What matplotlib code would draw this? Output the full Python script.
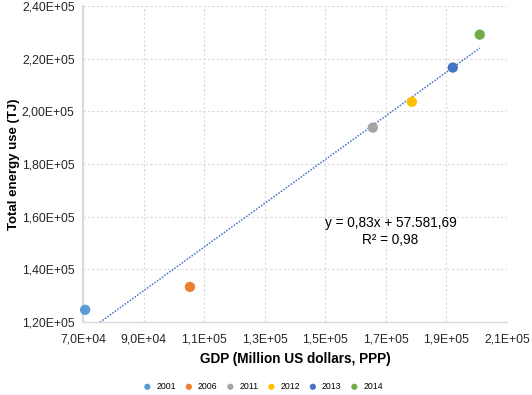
import numpy as np
import matplotlib
matplotlib.use("Agg")
import matplotlib.pyplot as plt
from matplotlib.ticker import FuncFormatter

plt.rcParams['font.family'] = ['Liberation Sans', 'DejaVu Sans']

# datos
years = ['2001', '2006', '2011', '2012', '2013', '2014']
gdp = [70700, 105300, 165700, 178600, 192100, 201000]
energy = [124600, 133300, 193800, 203600, 216600, 229100]
colores = ['#5B9BD5', '#ED7D31', '#A5A5A5', '#FFC000', '#4472C4', '#70AD47']

fig = plt.figure(figsize=(5.32, 3.95), dpi=100)
ax = fig.add_axes([0.156, 0.185, 0.797, 0.80])

for yr, x, y, c in zip(years, gdp, energy, colores):
    ax.scatter(x, y, s=55, color=c, label=yr, zorder=3, edgecolors='none', clip_on=False)

# linea de tendencia
m, b = np.polyfit(gdp, energy, 1)
xs = np.linspace(min(gdp), max(gdp), 100)
ax.plot(xs, m * xs + b, ls=(0, (1, 1)), color='#4472C4', lw=1.1, zorder=2)

ax.text(171500, 157500, "y = 0,83x + 57.581,69", ha='center', va='center', fontsize=9.8)
ax.text(171500, 151200, "R² = 0,98", ha='center', va='center', fontsize=9.8)

ax.set_xlim(70000, 210000)
ax.set_ylim(120000, 240000)
ax.set_xticks(np.arange(70000, 210001, 20000))
ax.set_yticks(np.arange(120000, 240001, 20000))
ax.xaxis.set_major_formatter(FuncFormatter(lambda v, p: f"{v:.1E}".replace('.', ',')))
ax.yaxis.set_major_formatter(FuncFormatter(lambda v, p: f"{v:.2E}".replace('.', ',')))
ax.tick_params(length=0, labelsize=8.8, labelcolor='#262626')
ax.tick_params(axis='y', pad=6)
ax.tick_params(axis='x', pad=8)

ax.grid(True, ls=(0, (2, 2)), color='#D9D9D9', lw=0.8)
ax.set_axisbelow(True)
for s in ['top', 'right']:
    ax.spines[s].set_visible(False)
ax.spines['left'].set_color('#D9D9D9')
ax.spines['left'].set_linewidth(1.5)
ax.spines['bottom'].set_color('#D9D9D9')
ax.spines['bottom'].set_linewidth(1.0)

ax.set_xlabel("GDP (Million US dollars, PPP)", fontsize=9.8, fontweight='bold', labelpad=5)
ax.set_ylabel("Total energy use (TJ)", fontsize=9.5, fontweight='bold')
ax.yaxis.set_label_coords(-0.148, 0.5)

fig.legend(loc='lower center', bbox_to_anchor=(0.49, -0.01), ncol=6, frameon=False,
           fontsize=6.3, markerscale=0.6, handletextpad=0.0, columnspacing=0.5)

fig.savefig("out.png", dpi=100)
